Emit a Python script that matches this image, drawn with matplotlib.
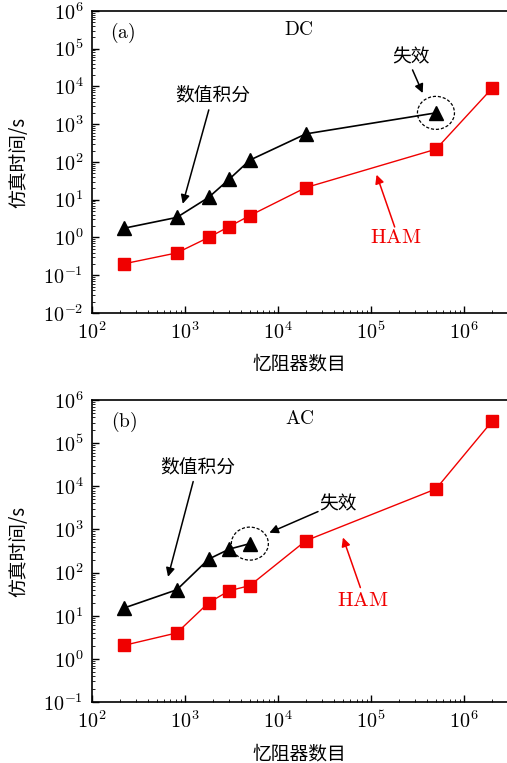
import numpy as np
import matplotlib
matplotlib.use("Agg")
import matplotlib.pyplot as plt
from matplotlib.patches import Ellipse
from matplotlib.transforms import ScaledTranslation
from matplotlib.ticker import FuncFormatter, LogLocator

plt.rcParams["mathtext.fontset"] = "cm"
CJK = ["Noto Sans CJK SC", "DejaVu Sans"]

# (a) DC
x_dc_num = [220, 820, 1800, 3000, 5000, 20000, 500000]
y_dc_num = [1.75, 3.4, 11.5, 35, 112, 555, 2000]
x_dc_ham = [220, 820, 1800, 3000, 5000, 20000, 500000, 2000000]
y_dc_ham = [0.2, 0.39, 1.0, 1.95, 3.8, 21, 218, 8900]
# (b) AC
x_ac_num = [220, 820, 1800, 3000, 5000]
y_ac_num = [15, 40, 205, 350, 470]
x_ac_ham = [220, 820, 1800, 3000, 5000, 20000, 500000, 2000000]
y_ac_ham = [2.05, 4.0, 20, 38, 50, 550, 8700, 320000]

fig = plt.figure(figsize=(5.07, 7.63), dpi=100)
ax1 = fig.add_axes([0.181, 0.5898, 0.819, 0.3958])
ax2 = fig.add_axes([0.181, 0.0799, 0.819, 0.3958])

def dec_fmt(v, pos):
    return r"$10^{%d}$" % int(round(np.log10(v)))

def style(ax, ylim):
    ax.set_xscale("log"); ax.set_yscale("log")
    ax.set_xlim(100, 2.9e6); ax.set_ylim(*ylim)
    ax.spines["right"].set_visible(False)
    for s in ("left", "bottom", "top"):
        ax.spines[s].set_linewidth(1.2)
    ax.tick_params(which="both", direction="in", top=False, right=False)
    ax.tick_params(which="major", length=5, width=1.0, labelsize=14.5, pad=6)
    ax.tick_params(which="minor", length=2.5)
    ax.xaxis.set_major_locator(LogLocator(base=10, numticks=20))
    ax.yaxis.set_major_locator(LogLocator(base=10, numticks=20))
    ax.xaxis.set_minor_locator(LogLocator(base=10, subs=np.arange(2, 10), numticks=20))
    ax.yaxis.set_minor_locator(LogLocator(base=10, subs=np.arange(2, 10), numticks=20))
    ax.xaxis.set_major_formatter(FuncFormatter(dec_fmt))
    ax.yaxis.set_major_formatter(FuncFormatter(dec_fmt))
    ax.set_xlabel("忆阻器数目", family=CJK, fontsize=13.5, labelpad=8)
    ax.set_ylabel("仿真时间/s", family=CJK, fontsize=13.5, labelpad=10)

def arrow(ax, head, tail, color):
    ax.annotate("", xy=head, xytext=tail,
                arrowprops=dict(arrowstyle="-|>", color=color, lw=1.1,
                                mutation_scale=13, shrinkA=0, shrinkB=0))

def circle(ax, x, y):
    tr = fig.dpi_scale_trans + ScaledTranslation(x, y, ax.transData)
    ax.add_patch(Ellipse((0, 0), 0.37, 0.33, transform=tr, fill=False,
                         ls=(0, (2.5, 1.5)), lw=0.9, color="black"))

for ax, xn, yn, xh, yh, ylim in [(ax1, x_dc_num, y_dc_num, x_dc_ham, y_dc_ham, (1e-2, 1e6)),
                                  (ax2, x_ac_num, y_ac_num, x_ac_ham, y_ac_ham, (1e-1, 1e6))]:
    style(ax, ylim)
    ax.plot(xn, yn, "k-", marker="^", ms=10.5, lw=1.2, clip_on=False)
    ax.plot(xh, yh, "-", color="#f00000", marker="s", ms=9, lw=1.0, clip_on=False)

# panel (a)
ax1.text(0.075, 0.927, r"$\mathrm{(a)}$", transform=ax1.transAxes, fontsize=14, ha="center", va="center")
ax1.text(0.499, 0.94, r"$\mathrm{DC}$", transform=ax1.transAxes, fontsize=14, ha="center", va="center")
ax1.text(2000, 5900, "数值积分", family=CJK, fontsize=13.5, ha="center", va="center")
arrow(ax1, (950, 7.8), (1810, 2400), "black")
ax1.text(2.7e5, 6e4, "失效", family=CJK, fontsize=13.5, ha="center", va="center")
arrow(ax1, (3.6e5, 6700), (2.8e5, 27500), "black")
circle(ax1, x_dc_num[-1], y_dc_num[-1])
ax1.text(1.86e5, 1.0, r"$\mathrm{HAM}$", color="#f00000", fontsize=15, ha="center", va="center")
arrow(ax1, (1.15e5, 46), (1.8e5, 1.9), "#f00000")

# panel (b)
ax2.text(0.077, 0.927, r"$\mathrm{(b)}$", transform=ax2.transAxes, fontsize=14, ha="center", va="center")
ax2.text(0.501, 0.94, r"$\mathrm{AC}$", transform=ax2.transAxes, fontsize=14, ha="center", va="center")
ax2.text(1380, 28500, "数值积分", family=CJK, fontsize=13.5, ha="center", va="center")
arrow(ax2, (660, 80), (1230, 12900), "black")
ax2.text(44000, 4000, "失效", family=CJK, fontsize=13.5, ha="center", va="center")
arrow(ax2, (8100, 840), (27000, 2600), "black")
circle(ax2, x_ac_num[-1], y_ac_num[-1])
ax2.text(81000, 23, r"$\mathrm{HAM}$", color="#f00000", fontsize=15, ha="center", va="center")
arrow(ax2, (50000, 650), (77000, 45), "#f00000")

fig.savefig("out.png", dpi=100)
